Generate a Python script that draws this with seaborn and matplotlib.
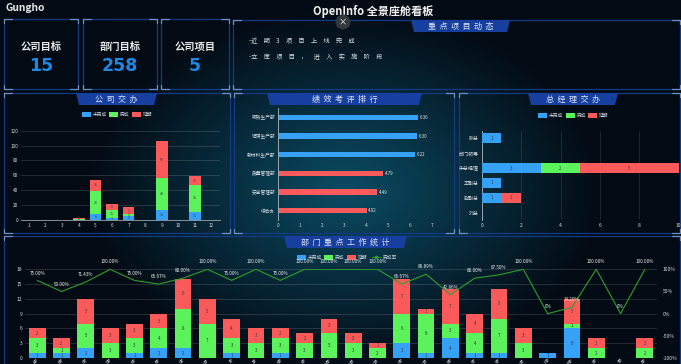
import numpy as np
import pandas as pd
import matplotlib
matplotlib.use('Agg')
import matplotlib.pyplot as plt
from matplotlib.patches import Polygon, Rectangle, Circle
import seaborn as sns

W, H = 681, 364
BLUE, GREEN, RED = '#36a2f7', '#5cf25c', '#fb5a5a'
STATUS = ['未完成', '完成', '延期']

# company assigned tasks
months = ['1', '2', '3', '4', '5', '6', '7', '8', '9', '10', '11', '12']
co_todo = [0, 0, 0, 0, 8, 3, 5, 0, 13, 0, 11, 0]
co_done = [0, 0, 0, 2, 31, 11, 3, 0, 43, 0, 36, 0]
co_late = [0, 0, 0, 1, 15, 8, 9, 0, 50, 0, 12, 0]

# performance ranking
rank_names = ['钢铁生产部', '铝镁生产部', '新材料生产部', '质量管理部', '安全管理部', '综合办']
rank_vals = [6.36, 6.30, 6.22, 4.79, 4.49, 4.02]
rank_cols = [BLUE, BLUE, BLUE, RED, RED, RED]

# general manager tasks
gm_names = ['张总', '部门领导', '朱总经理', '王副总', '赵副总', '刘总']
gm_todo = [1, 0, 3, 1, 1, 0]
gm_done = [0, 0, 2, 0, 0, 0]
gm_late = [0, 0, 5, 0, 1, 0]

# department key work
depts = ['A部', 'B部', 'C部', 'D部', 'E部', 'F部', 'G部', 'H部', 'I部', 'J部', 'K部', 'L部', 'M部',
         'N部', 'O部', 'P部', 'Q部', 'R部', 'S部', 'T部', 'U部', 'V部', 'W部', 'X部', 'Y部', 'Z部']
dep_todo = [1, 1, 2, 0, 1, 2, 2, 0, 1, 0, 1, 0, 0, 0, 0, 3, 1, 4, 1, 1, 0, 1, 6, 0, 0, 0]
dep_done = [3, 1, 5, 3, 3, 4, 8, 7, 3, 3, 3, 3, 5, 3, 2, 6, 8, 3, 4, 7, 3, 0, 1, 2, 0, 2]
dep_late = [2, 2, 5, 3, 3, 3, 6, 5, 4, 3, 2, 2, 3, 2, 1, 7, 1, 7, 4, 6, 3, 0, 5, 2, 0, 2]
dep_rate = [75.0, 50.0, 71.43, 100.0, 75.0, 66.67, 80.0, 100.0, 75.0, 100.0, 75.0, 100.0, 100.0,
            100.0, 100.0, 66.67, 88.89, 42.86, 80.0, 87.5, 100.0, 0.0, 14.29, 100.0, 0.0, 100.0]

sns.set_theme(style='dark')
plt.rcParams['font.family'] = ['Noto Sans CJK SC', 'DejaVu Sans']
plt.rcParams['axes.unicode_minus'] = False

fig = plt.figure(figsize=(W / 100, H / 100), dpi=100)


def px_axes(x0, y0, x1, y1, z=2):
    ax = fig.add_axes([x0 / W, 1 - y1 / H, (x1 - x0) / W, (y1 - y0) / H], zorder=z)
    ax.patch.set_alpha(0)
    return ax


# background glow
bg = fig.add_axes([0, 0, 1, 1], zorder=0)
yy, xx = np.mgrid[0:H, 0:W]
d = np.clip(np.sqrt(((xx - 345) / 255) ** 2 + ((yy - 190) / 180) ** 2), 0, 1)[..., None]
c0, c1 = np.array([11, 76, 100]) / 255, np.array([3, 11, 20]) / 255
bg.imshow(c0 + (c1 - c0) * d, aspect='auto')
bg.axis('off')

# frames, tabs and text live in a pixel overlay
ov = fig.add_axes([0, 0, 1, 1], zorder=1)
ov.set_xlim(0, W)
ov.set_ylim(H, 0)
ov.axis('off')
ov.patch.set_alpha(0)


def frame(x0, y0, x1, y1):
    ov.add_patch(Rectangle((x0, y0), x1 - x0, y1 - y0, fill=False, ec='#123a86', lw=0.9))
    n = 8
    for cx, cy, sx, sy in [(x0, y0, 1, 1), (x1, y0, -1, 1), (x0, y1, 1, -1), (x1, y1, -1, -1)]:
        ov.plot([cx + sx * n, cx, cx], [cy, cy, cy + sy * 4], color='#6f8fc4', lw=0.9)


def tab(x0, x1, y0, label):
    ov.add_patch(Polygon([(x0, y0), (x1, y0), (x1 - 3, y0 + 12), (x0 + 3, y0 + 12)], color='#173f9f', lw=0))
    ov.text((x0 + x1) / 2, y0 + 6, label, color='#dfe8f5', fontsize=5.8, ha='center', va='center')


def legend_row(items, y):
    for x, col, label in items:
        if col == 'line':
            ov.plot([x, x + 8], [y, y], color='#2e9e2e', lw=0.8)
            ov.plot([x + 4], [y], 'o', color='#2e9e2e', ms=1.6)
        else:
            ov.add_patch(Rectangle((x, y - 2.5), 8.5, 5, color=col, lw=0))
        ov.text(x + 11, y, label, color='#c9d3dc', fontsize=3.4, ha='left', va='center')


for box in [(4, 19, 78, 89), (83, 19, 157, 89), (161, 19, 229, 89), (233, 20, 680, 89),
            (4, 93, 230, 233), (234, 93, 454, 233), (459, 93, 680, 233), (4, 236, 680, 372)]:
    frame(*box)

tab(411, 510, 20, '重  点  项  目  动  态')
tab(76, 157, 93, '公  司  交  办')
tab(267, 422, 93, '绩  效  考  评  排  行')
tab(528, 618, 93, '总  经  理  交  办')
tab(284, 407, 236, '部  门  重  点  工  作  统  计')

ov.text(5, 8, 'Gungho', color='#e6e6e6', fontsize=7.4, fontweight='bold', ha='left', va='center')
ov.text(373, 12, 'OpenInfo 全景座舱看板', color='#f0f0f0', fontsize=8, fontweight='bold', ha='center', va='center')
ov.add_patch(Circle((343, 22), 7.5, color='#33383c', lw=0, zorder=5))
ov.text(343, 22, '×', color='white', fontsize=6, ha='center', va='center', zorder=6)

for x, label, num in [(41, '公司目标', '15'), (120, '部门目标', '258'), (195, '公司项目', '5')]:
    ov.text(x, 47, label, color='#e8e8e8', fontsize=7.4, fontweight='bold', ha='center', va='center')
    ov.text(x, 66, num, color='#1e88e5', fontsize=12.5, fontweight='bold', ha='center', va='center',
            family='DejaVu Sans')

ov.text(249, 41, '-近\u3000期\u30003\u3000项\u3000目\u3000上\u3000线\u3000完\u3000成', color='#d8dde2', fontsize=4.5, va='center')
ov.text(249, 57, '-立\u3000库\u3000项\u3000目\u3000，\u3000进\u3000入\u3000实\u3000施\u3000阶\u3000段', color='#d8dde2', fontsize=4.5, va='center')

legend_row([(82, BLUE, STATUS[0]), (109, GREEN, STATUS[1]), (132, RED, STATUS[2])], 114.7)
legend_row([(538, BLUE, STATUS[0]), (566, GREEN, STATUS[1]), (588, RED, STATUS[2])], 115)
legend_row([(297, BLUE, STATUS[0]), (324, GREEN, STATUS[1]), (347, RED, STATUS[2]), (372, 'line', '完成率')], 257)


def style_axes(ax, size=3.4):
    for s in ax.spines.values():
        s.set_visible(False)
    ax.set_xlabel('')
    ax.set_ylabel('')
    ax.tick_params(labelsize=size, colors='#d5dbe0', length=0, pad=2)


def stacked_v(ax, names, series, width, size=3.2):
    bottom = np.zeros(len(names))
    for vals, col in zip(series, [BLUE, GREEN, RED]):
        part = pd.DataFrame({'name': names, 'val': vals})
        sns.barplot(data=part, x='name', y='val', order=names, color=col, width=width, saturation=1,
                    bottom=bottom, ax=ax, zorder=3, errorbar=None, edgecolor='none', linewidth=0)
        for i, v in enumerate(vals):
            if v > 0:
                ax.text(i, bottom[i] + v / 2, str(v), color='#3a3a3a', fontsize=size,
                        ha='center', va='center', zorder=4)
        bottom = bottom + np.array(vals)


# company assigned
ax1 = px_axes(20.7, 130.7, 220, 220)
stacked_v(ax1, months, [co_todo, co_done, co_late], 0.7, size=2.6)
ax1.set_ylim(0, 120)
ax1.set_yticks(range(0, 121, 20))
ax1.grid(axis='y', color='white', alpha=0.16, lw=0.6)
ax1.set_axisbelow(True)
style_axes(ax1)
ax1.spines['bottom'].set_visible(True)
ax1.spines['bottom'].set_color('#9aa7b2')
ax1.spines['bottom'].set_linewidth(0.6)

# ranking
ax2 = px_axes(278.3, 108, 432, 220)
rank_df = pd.DataFrame({'name': rank_names, 'val': rank_vals})
sns.barplot(data=rank_df, y='name', x='val', hue='name', palette=rank_cols, legend=False,
            width=0.27, saturation=1, ax=ax2, errorbar=None, edgecolor='none', linewidth=0)
for i, v in enumerate(rank_vals):
    ax2.text(v + 0.08, i, f'{v:.2f}', color='#e6e6e6', fontsize=3.2, va='center')
ax2.set_xlim(0, 7)
ax2.set_xticks(range(8))
style_axes(ax2)
ax2.spines['left'].set_visible(True)
ax2.spines['left'].set_color('#9aa7b2')
ax2.spines['left'].set_linewidth(0.7)

# general manager
ax3 = px_axes(481.7, 130.7, 678.7, 220.3)
left = np.zeros(len(gm_names))
for vals, col in zip([gm_todo, gm_done, gm_late], [BLUE, GREEN, RED]):
    gm_df = pd.DataFrame({'name': gm_names, 'val': vals})
    sns.barplot(data=gm_df, y='name', x='val', order=gm_names, color=col, width=0.67, saturation=1,
                left=left, ax=ax3, zorder=3, errorbar=None, edgecolor='none', linewidth=0)
    for i, v in enumerate(vals):
        if v > 0:
            ax3.text(left[i] + v / 2, i, str(v), color='#3a3a3a', fontsize=3.2, ha='center', va='center', zorder=4)
    left = left + np.array(vals)
ax3.set_xlim(0, 10)
ax3.set_xticks(range(0, 11, 2))
ax3.grid(axis='x', color='white', alpha=0.12, lw=0.6)
ax3.set_axisbelow(True)
style_axes(ax3, 3.6)
ax3.spines['left'].set_visible(True)
ax3.spines['left'].set_color('#9aa7b2')
ax3.spines['left'].set_linewidth(0.7)

# departments
ax4 = px_axes(25.1, 269.3, 657, 358)
stacked_v(ax4, depts, [dep_todo, dep_done, dep_late], 0.69)
ax4.set_ylim(0, 18)
ax4.set_yticks(range(0, 19, 3))
ax4.grid(axis='y', color='white', alpha=0.16, lw=0.6)
ax4.set_axisbelow(True)
style_axes(ax4, 3.6)
ax4.tick_params(axis='x', pad=0, labelsize=2.6)
plt.setp(ax4.get_xticklabels(), rotation=45, ha='right', rotation_mode='anchor')

ax5 = ax4.twinx()
ax5.patch.set_alpha(0)
rate_df = pd.DataFrame({'pos': np.arange(len(depts)), 'rate': dep_rate})
sns.lineplot(data=rate_df, x='pos', y='rate', color='#2e9e2e', lw=0.8, ax=ax5, zorder=5, errorbar=None)
for i, v in enumerate(dep_rate):
    txt = '0%' if v == 0 else f'{v:.2f}%'
    ax5.annotate(txt, (i, v), xytext=(0, 3.5), textcoords='offset points', color='#f0f0f0',
                 fontsize=3.3, ha='center', va='bottom', zorder=6)
ax5.set_ylim(-100, 100)
ax5.set_yticks([-100, -50, 0, 50, 100], ['-100%', '-50%', '0%', '50%', '100%'])
ax5.grid(False)
style_axes(ax5, 3.6)
ax5.tick_params(pad=4)
ax4.set_xlim(-0.5, 25.5)

fig.savefig('out.png', dpi=100)
